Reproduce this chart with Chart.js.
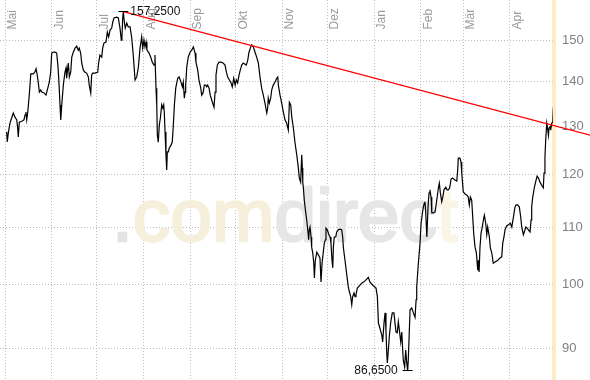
<!DOCTYPE html>
<html>
<head>
<meta charset="utf-8">
<script src="https://cdn.jsdelivr.net/npm/chart.js@4.4.1/dist/chart.umd.min.js"></script>
<style>
  html, body { margin: 0; padding: 0; background: #ffffff; }
  #wrap { width: 590px; height: 380px; position: relative; }
</style>
</head>
<body>
<div id="wrap"><canvas id="c" width="590" height="380"></canvas></div>
<script>
// ---- Data (day offset from 1 May, closing price) ----
const monthLabels = ['Mai','Jun','Jul','Aug','Sep','Okt','Nov','Dez','Jan','Feb','Mär','Apr'];
const monthStarts = [0,31,61,92,123,153,184,214,245,276,304,335];
const yTickValues = [90,100,110,120,130,140,150];
const todayDay = 363.64;

const days = [
  1.1,1.5,2.2,3.3,4.4,5.5,6.6,7.8,8.4,8.8,
  9.5,11.1,12.6,13.3,13.9,14.4,15.1,16.1,17.1,18.8,
  19.9,20.6,21.4,22.1,22.8,23.7,24.4,25.9,27.2,28.1,
  29.4,30.3,31.0,32.1,33.2,34.3,35.2,36.0,36.5,37.0,
  37.8,38.7,39.8,40.5,40.9,42.0,42.7,43.6,44.3,45.3,
  46.5,47.6,48.6,49.3,50.2,50.9,52.0,53.1,54.2,55.3,
  55.9,56.9,57.5,58.2,59.7,61.5,62.2,63.0,64.2,64.8,
  65.7,67.0,67.9,68.8,69.7,70.8,71.5,72.3,74.1,75.2,
  76.3,77.2,77.6,78.1,78.5,79.2,79.8,80.8,81.8,83.0,
  84.1,85.1,86.3,87.4,88.5,89.6,90.7,91.4,92.2,92.9,
  93.6,94.2,95.6,96.9,97.7,98.9,99.5,100.2,100.7,101.1,
  101.7,102.4,103.1,104.0,104.7,105.3,105.7,106.2,106.8,107.3,
  107.7,108.4,109.0,110.2,111.0,111.7,112.4,113.3,114.6,115.5,
  116.8,117.7,118.3,119.0,119.5,119.9,120.6,121.6,122.8,123.9,
  125.0,126.1,126.7,127.9,128.7,129.9,130.5,131.4,132.3,133.2,
  133.9,134.5,135.4,136.2,137.6,138.7,139.4,140.0,140.9,142.0,
  143.3,144.7,146.0,146.9,147.8,148.9,150.0,150.8,151.8,152.7,
  153.5,154.4,155.3,156.1,157.1,158.1,159.3,160.1,161.1,161.9,
  162.8,163.7,164.8,165.9,167.0,168.1,169.2,170.3,171.4,172.5,
  173.7,174.3,174.7,175.4,176.3,177.0,178.0,179.2,180.3,181.0,
  181.4,182.5,183.6,184.7,185.8,186.9,188.0,188.7,189.6,190.3,
  191.3,192.4,193.6,194.6,195.3,196.2,196.9,197.3,197.6,198.0,
  198.6,199.5,200.2,200.9,201.5,201.9,202.4,203.1,203.5,204.2,
  204.9,205.3,205.9,206.9,208.0,209.0,209.7,210.4,211.2,211.9,
  212.6,213.0,213.9,214.8,215.7,216.3,217.0,217.5,217.9,218.5,
  219.5,220.1,221.2,222.3,223.4,224.1,224.5,225.6,226.8,227.8,
  228.5,229.4,230.1,230.7,231.6,232.3,232.9,233.8,234.5,236.7,
  238.9,241.1,242.2,244.4,246.2,247.1,247.8,248.8,250.0,250.6,
  251.5,252.2,252.8,253.3,253.7,254.4,255.0,256.0,257.0,258.1,
  258.8,259.5,260.3,261.0,261.7,262.6,263.3,263.9,264.3,265.2,
  265.9,266.6,267.2,267.6,268.8,269.9,271.0,272.1,272.8,273.2,
  274.3,275.4,276.1,277.0,277.6,278.3,278.7,279.2,279.9,280.3,
  280.7,281.4,282.0,282.7,283.2,284.2,285.4,286.5,287.6,288.2,
  288.9,289.8,290.5,291.3,292.5,293.3,294.2,295.1,296.0,297.1,
  298.6,299.8,300.4,300.8,301.9,302.6,303.1,304.1,305.3,306.4,
  307.4,308.1,308.8,309.7,310.4,311.0,311.9,312.8,313.7,314.1,
  314.6,315.2,315.9,316.7,317.7,318.1,319.0,319.7,320.3,321.0,
  321.4,322.1,323.0,324.0,325.2,327.0,328.5,329.6,330.3,331.1,
  331.8,332.9,334.0,335.3,336.3,337.3,338.4,339.1,340.2,341.3,
  342.2,342.9,344.0,344.6,345.6,346.5,347.3,348.4,349.1,349.5,
  350.2,351.3,352.4,353.1,354.0,355.0,356.1,357.2,357.7,358.3,
  358.8,359.5,359.9,360.6,361.0,361.7,362.1,362.8,363.5,363.9
];

const prices = [
  128.8,126.7,128.6,130.7,131.8,132.9,132.0,131.4,129.6,127.7,
  130.9,131.1,131.4,132.5,133.1,131.4,133.1,136.9,141.8,141.8,
  142.3,143.0,141.5,139.7,137.6,138.1,137.6,137.4,136.9,138.1,
  139.9,142.2,146.8,147.0,147.0,146.8,143.4,138.5,134.7,131.4,
  135.3,139.2,142.2,143.2,140.8,144.4,141.1,142.2,145.8,147.0,
  148.0,148.5,147.5,148.0,146.8,144.4,142.7,142.2,142.0,141.1,
  139.2,137.4,141.5,142.0,142.0,142.2,144.6,146.3,145.8,148.0,
  149.3,149.5,152.0,150.8,152.5,153.0,154.5,155.6,155.8,155.6,
  153.0,150.0,150.5,155.6,157.25,154.5,153.0,154.3,153.3,153.3,
  150.5,146.3,140.4,141.1,143.4,148.0,150.8,148.0,150.0,148.3,
  149.5,147.5,146.8,145.6,144.6,143.9,146.3,138.5,134.7,128.1,
  126.6,130.3,131.8,134.7,134.0,134.7,133.1,128.8,124.0,120.9,
  124.6,124.6,125.4,126.0,126.7,130.3,134.7,138.5,140.8,141.1,
  139.9,138.8,139.9,136.2,137.6,139.2,143.4,145.8,147.0,147.5,
  148.3,146.8,144.6,142.7,140.4,138.5,136.9,137.4,139.2,139.2,
  138.8,139.2,138.5,136.9,135.3,134.2,137.6,141.5,143.9,144.6,
  144.6,144.4,143.9,142.2,141.1,140.4,139.7,138.8,140.8,139.2,
  140.4,139.7,141.5,142.7,143.9,144.4,144.1,143.9,145.1,147.0,
  148.0,148.8,148.3,147.0,145.8,144.4,141.1,138.5,136.9,135.1,
  132.9,134.0,136.2,135.1,136.2,138.1,139.2,139.9,140.8,141.1,
  139.2,136.9,135.1,133.1,131.4,130.7,129.2,135.3,134.7,132.0,
  129.8,126.6,124.0,121.5,119.3,118.5,124.0,121.3,118.5,117.4,
  115.0,112.8,111.3,109.5,107.7,109.5,110.0,108.2,106.4,105.4,
  103.6,101.1,104.1,105.5,105.0,104.5,100.4,103.6,105.5,107.1,
  107.7,109.8,109.5,108.7,108.2,107.1,104.1,102.8,106.4,108.2,
  108.2,109.1,109.5,109.6,109.5,108.2,106.4,104.1,101.6,99.6,
  98.8,98.0,96.7,98.0,98.6,98.0,98.3,99.4,99.6,100.2,
  100.6,101.2,100.4,99.8,99.4,98.0,93.8,93.0,92.0,90.9,
  93.8,95.4,92.7,89.4,87.8,89.7,91.7,94.0,95.4,95.4,
  93.8,92.4,92.3,94.0,92.7,90.9,92.4,89.7,88.2,87.2,
  89.7,87.8,86.65,88.2,95.9,96.2,95.4,94.7,97.5,99.6,
  103.6,107.1,110.7,112.6,113.7,114.5,114.7,112.6,108.2,110.7,
  113.7,116.4,117.0,115.6,112.6,112.6,112.8,115.0,117.4,118.3,
  116.4,114.7,115.6,117.0,117.5,117.0,117.0,117.4,119.1,119.3,
  118.9,118.7,120.9,123.3,123.3,122.5,120.3,116.6,116.2,116.0,
  115.6,114.1,115.6,115.0,111.7,108.9,106.4,105.4,102.4,104.1,
  102.1,106.4,108.9,110.0,111.7,112.2,110.7,108.6,110.0,108.9,
  108.2,106.2,105.4,103.6,103.8,104.1,104.5,104.7,107.1,108.2,
  109.5,110.2,110.4,110.7,110.0,111.7,113.7,114.1,114.1,113.7,
  111.9,110.0,108.6,109.1,110.0,109.8,109.5,109.1,111.3,113.8,
  115.6,117.5,118.9,119.7,119.3,118.5,117.9,117.4,120.3,123.5,
  127.1,130.7,129.9,128.1,129.6,129.9,129.2,130.7,130.9,134.2
];

// trend line (resistance) endpoints
const trendDays = [78.5, 388.2];
const trendValues = [157.25, 128.1];

// axis ranges
const xMin = -3.32, xMax = todayDay;
const yMin = 85.35, yMax = 160.3;

// ---- build ----
const n = Math.min(days.length, prices.length);
const lineData = [];
for (let i = 0; i < n; i++) lineData.push({x: days[i], y: prices[i]});
const trendData = trendDays.map((d, i) => ({x: d, y: trendValues[i]}));

const FONT = "'Liberation Sans', Arial, Helvetica, sans-serif";

function fmt(v) { return v.toFixed(4).replace('.', ','); }

function noPad(s) { s.paddingTop = 0; s.paddingBottom = 0; s.paddingLeft = 0; s.paddingRight = 0; }

const decorPlugin = {
  id: 'decor',
  beforeDatasetsDraw(chart) {
    const ctx = chart.ctx, xs = chart.scales.x, area = chart.chartArea;
    ctx.save();
    // watermark
    ctx.font = '75px ' + FONT;
    ctx.textBaseline = 'alphabetic';
    ctx.textAlign = 'left';
    ctx.lineJoin = 'round';
    ctx.lineWidth = 2.5;
    const parts = [['.', '#e3e3e3'], ['com', '#f5efdb'], ['direc', '#e6e6e6'], ['t', '#faf5e6']];
    let wx = 112;
    const wy = 241;
    for (const [t, c] of parts) {
      ctx.fillStyle = c; ctx.strokeStyle = c;
      ctx.fillText(t, wx, wy);
      ctx.strokeText(t, wx, wy);
      wx += ctx.measureText(t).width;
    }
    // today marker band
    const tx = xs.getPixelForValue(todayDay);
    ctx.fillStyle = 'rgba(252, 222, 150, 0.55)';
    ctx.fillRect(tx - 1, area.top, 4, area.bottom - area.top);
    // month labels
    ctx.fillStyle = '#9a9a9a';
    ctx.font = '12px ' + FONT;
    ctx.textAlign = 'left';
    ctx.textBaseline = 'alphabetic';
    monthStarts.forEach((d, i) => {
      const px = Math.round(xs.getPixelForValue(d));
      ctx.save();
      ctx.translate(px + 10.5, 29.5);
      ctx.rotate(-Math.PI / 2);
      ctx.fillText(monthLabels[i], 0, 0);
      ctx.restore();
    });
    ctx.restore();
  },
  afterDatasetsDraw(chart) {
    const ctx = chart.ctx, xs = chart.scales.x, ys = chart.scales.y;
    let imax = 0, imin = 0;
    for (let i = 1; i < n; i++) {
      if (prices[i] > prices[imax]) imax = i;
      if (prices[i] < prices[imin]) imin = i;
    }
    ctx.save();
    ctx.strokeStyle = '#000';
    ctx.lineWidth = 1;
    ctx.fillStyle = '#111';
    ctx.font = '12px ' + FONT;
    ctx.textBaseline = 'middle';
    // peak
    let px = xs.getPixelForValue(days[imax]), py = Math.round(ys.getPixelForValue(prices[imax])) - 0.5;
    ctx.beginPath(); ctx.moveTo(px - 5, py); ctx.lineTo(px + 5, py); ctx.stroke();
    ctx.textAlign = 'left';
    ctx.fillText(fmt(prices[imax]), px + 7, py + 0.5);
    // low
    px = xs.getPixelForValue(days[imin]); py = Math.round(ys.getPixelForValue(prices[imin])) - 0.5;
    ctx.beginPath(); ctx.moveTo(px - 5, py); ctx.lineTo(px + 5, py); ctx.stroke();
    ctx.textAlign = 'right';
    ctx.fillText(fmt(prices[imin]), px - 10, py + 0.5);
    ctx.restore();
  }
};

new Chart(document.getElementById('c'), {
  type: 'line',
  data: {
    datasets: [
      {
        data: trendData,
        borderColor: '#ff0000',
        borderWidth: 1.3,
        pointRadius: 0,
        tension: 0,
        clip: false,
        order: 0
      },
      {
        data: lineData,
        borderColor: '#000000',
        borderWidth: 1.2,
        pointRadius: 0,
        tension: 0,
        order: 1
      }
    ]
  },
  options: {
    responsive: false,
    devicePixelRatio: 1,
    animation: false,
    layout: { padding: 0 },
    plugins: { legend: { display: false }, tooltip: { enabled: false } },
    scales: {
      x: {
        type: 'linear',
        min: xMin,
        max: xMax,
        bounds: 'data',
        afterBuildTicks: s => { s.ticks = monthStarts.map(v => ({ value: v })); s.min = xMin; s.max = xMax; },
        afterFit: s => { s.height = 0; noPad(s); },
        ticks: { display: false },
        grid: { color: '#bdbdbd', lineWidth: 1, drawTicks: false },
        border: { display: false, dash: [1, 2] }
      },
      y: {
        type: 'logarithmic',
        position: 'right',
        min: yMin,
        max: yMax,
        bounds: 'data',
        afterBuildTicks: s => { s.ticks = yTickValues.map(v => ({ value: v })); s.min = yMin; s.max = yMax; },
        afterFit: s => { s.width = 37; noPad(s); },
        ticks: {
          padding: 9,
          color: '#808080',
          font: { family: FONT, size: 13 },
          callback: v => String(v),
          autoSkip: false
        },
        grid: { color: '#bdbdbd', lineWidth: 1, drawTicks: false },
        border: { display: false, dash: [1, 2] }
      }
    }
  },
  plugins: [decorPlugin]
});
</script>
</body>
</html>
